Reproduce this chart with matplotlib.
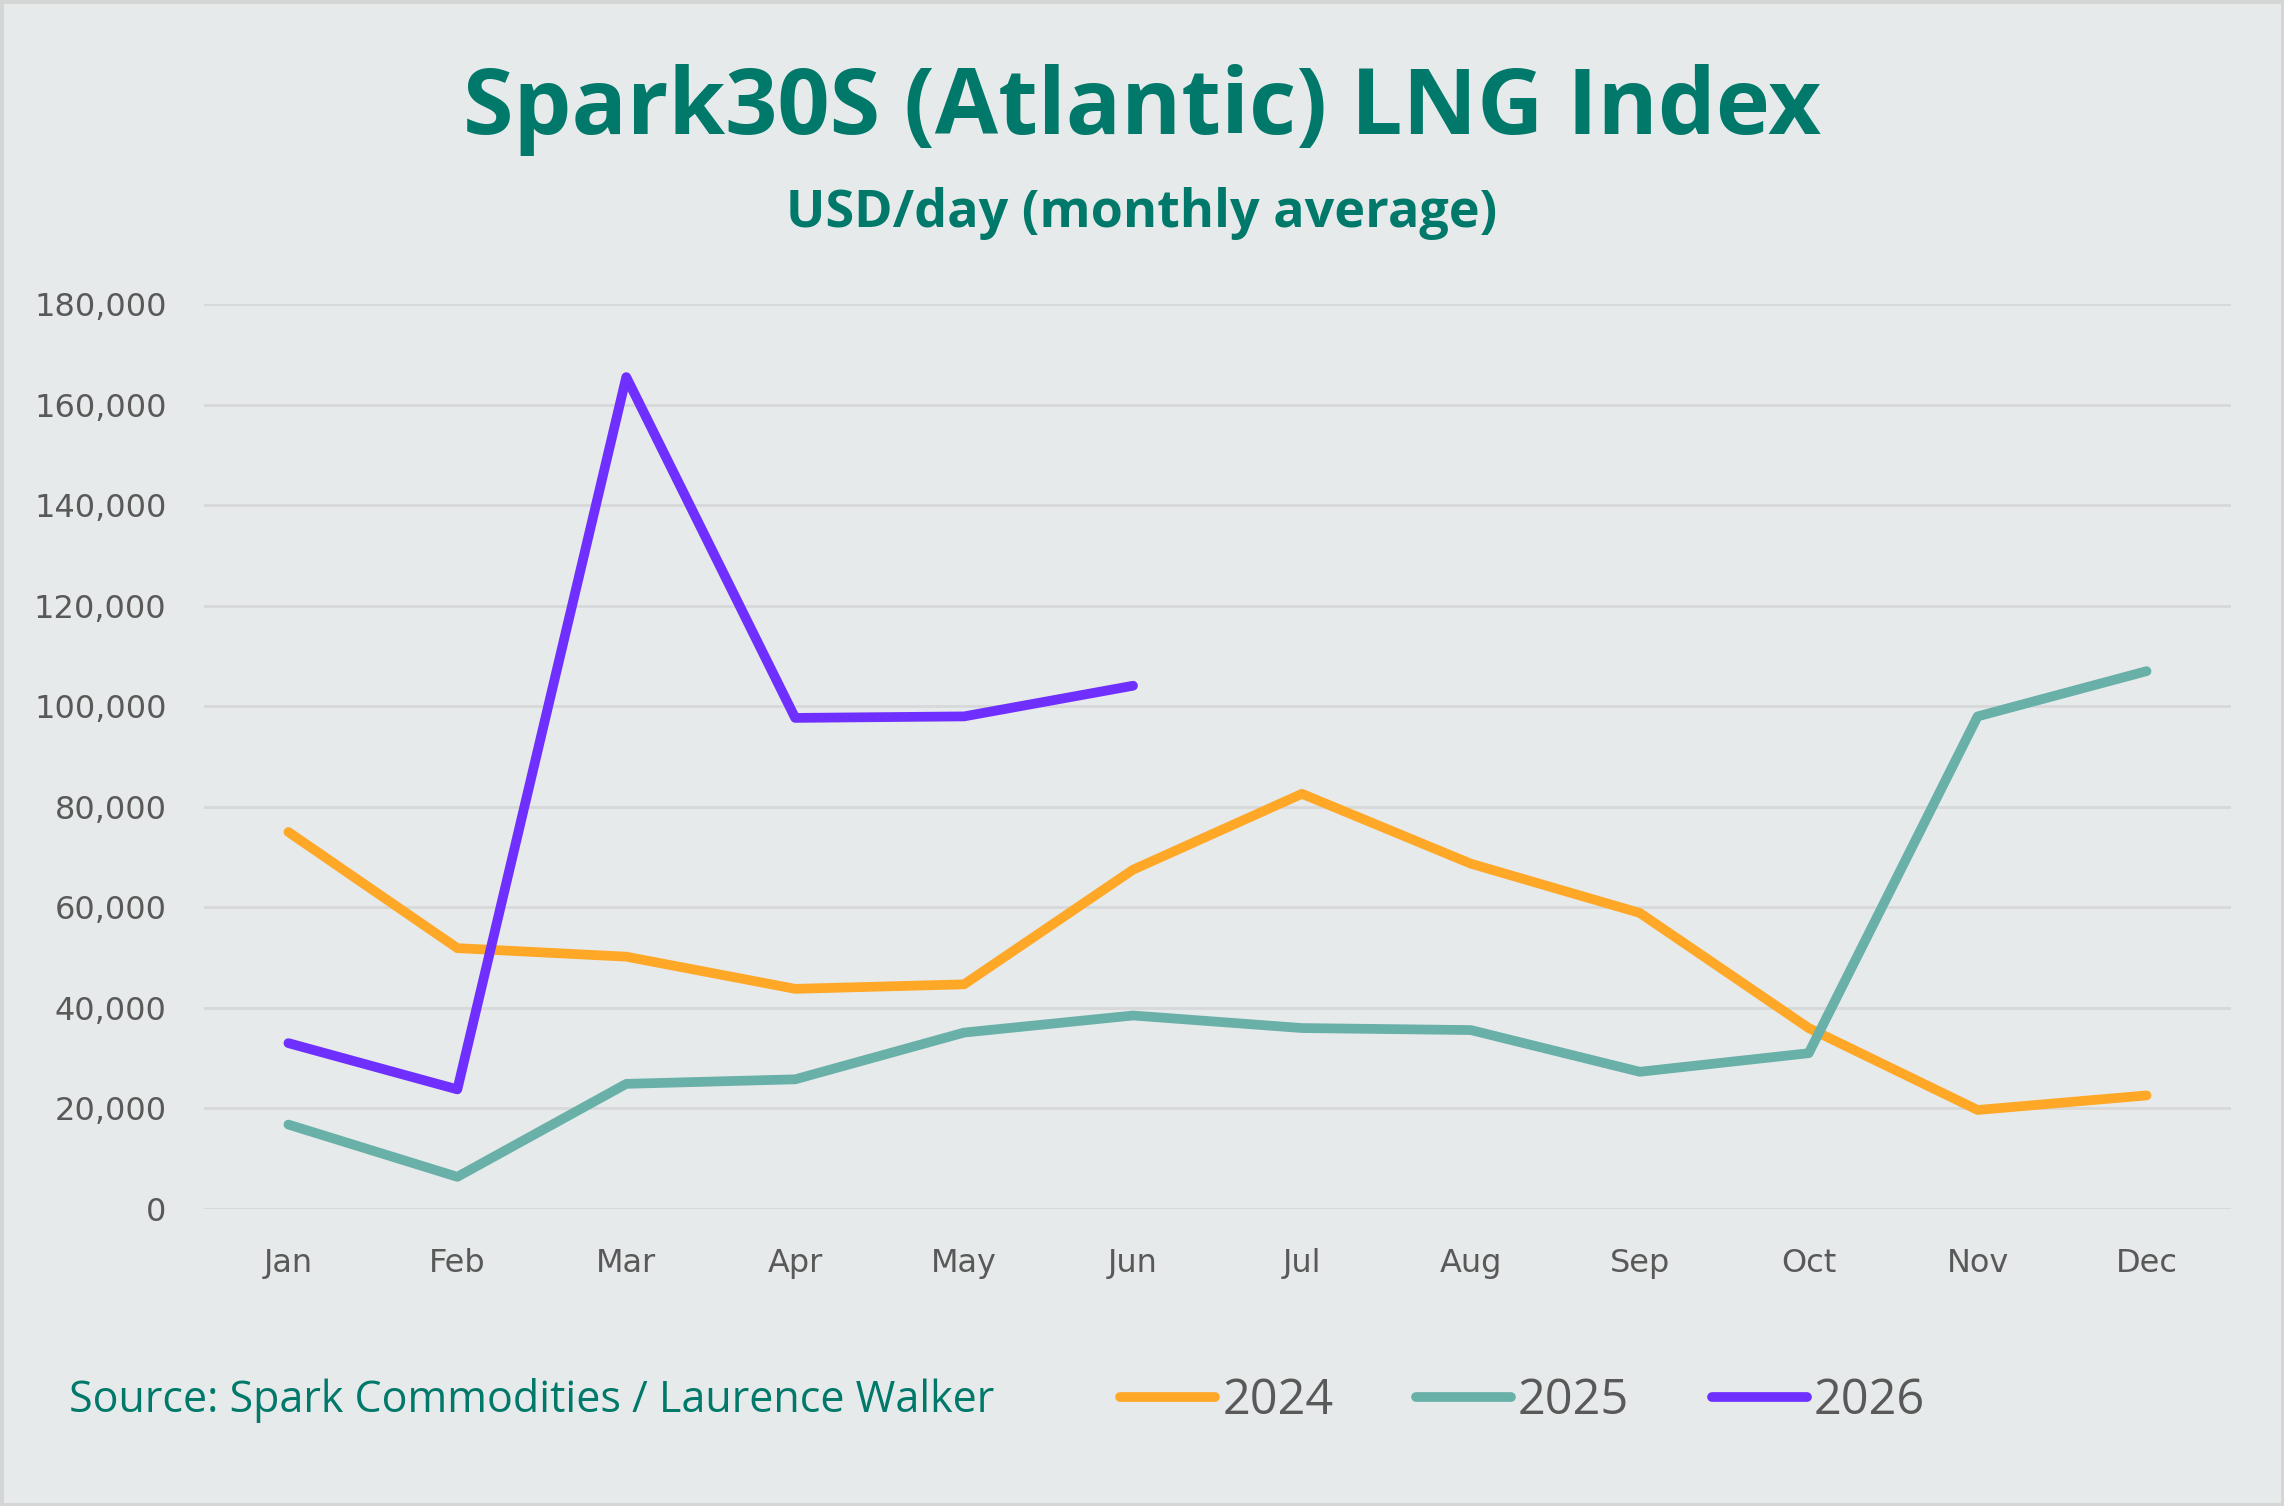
import matplotlib
matplotlib.use("Agg")
import matplotlib.pyplot as plt
from matplotlib.patches import Rectangle
from matplotlib.ticker import FuncFormatter, MultipleLocator

months = ["Jan", "Feb", "Mar", "Apr", "May", "Jun", "Jul", "Aug", "Sep", "Oct", "Nov", "Dec"]
series_2024 = [75000, 51900, 50200, 43800, 44700, 67500, 82600, 68700, 58900, 36000, 19700, 22600]
series_2025 = [16800, 6400, 24900, 25800, 35100, 38500, 36000, 35600, 27300, 31000, 98000, 107000]
series_2026 = [33000, 23800, 165500, 97700, 98000, 104100]
labels = ["2024", "2025", "2026"]
colors = ["#FFA726", "#68B0A8", "#6E2FFF"]

title = "Spark30S (Atlantic) LNG Index"
subtitle = "USD/day (monthly average)"
source = "Source: Spark Commodities / Laurence Walker"

bg = "#E7EAEA"
teal_dark = "#00796B"
grey_text = "#595959"

plt.rcParams['font.family'] = ['Open Sans', 'DejaVu Sans']

fig = plt.figure(figsize=(22.84, 15.06), dpi=100, facecolor=bg)
ax = fig.add_axes([0.0893, 0.1972, 0.9768 - 0.0893, 0.798 - 0.1972])
ax.set_facecolor(bg)

x = list(range(len(months)))
for vals, lab, col in zip([series_2024, series_2025, series_2026], labels, colors):
    ax.plot(x[:len(vals)], vals, color=col, lw=7, label=lab,
            solid_capstyle='round', solid_joinstyle='round')

ax.set_xlim(-0.5, 11.5)
ax.set_ylim(0, 180000)
ax.yaxis.set_major_locator(MultipleLocator(20000))
ax.yaxis.set_major_formatter(FuncFormatter(lambda v, p: f"{int(v):,}"))
ax.set_xticks(x)
ax.set_xticklabels(months)
ax.grid(axis='y', color='#D6D8D9', lw=2)
ax.set_axisbelow(True)
for s in ax.spines.values():
    s.set_visible(False)
ax.tick_params(axis='both', length=0, colors=grey_text, labelsize=23)
for lbl in ax.get_xticklabels() + ax.get_yticklabels():
    lbl.set_family('DejaVu Sans')
ax.tick_params(axis='y', pad=27)
ax.tick_params(axis='x', pad=28)

fig.text(0.5, 0.927, title, ha='center', va='center', fontsize=66,
         fontweight='bold', color=teal_dark)
fig.text(0.5, 0.858, subtitle, ha='center', va='center', fontsize=37.5,
         fontweight='bold', color=teal_dark)
fig.text(0.030, 0.070, source, ha='left', va='center', fontsize=31, color=teal_dark)

leg = ax.legend(loc='center left', bbox_to_anchor=(0.452, -0.213), ncol=3, frameon=False,
                fontsize=35, handlelength=1.95, handletextpad=0.15, columnspacing=1.7,
                borderpad=0, borderaxespad=0, labelcolor=grey_text)

fig.patches.append(Rectangle((0, 0), 1, 1, transform=fig.transFigure, fill=False,
                             edgecolor='#D4D6D6', lw=5))

fig.savefig("out.png", dpi=100, facecolor=bg)
